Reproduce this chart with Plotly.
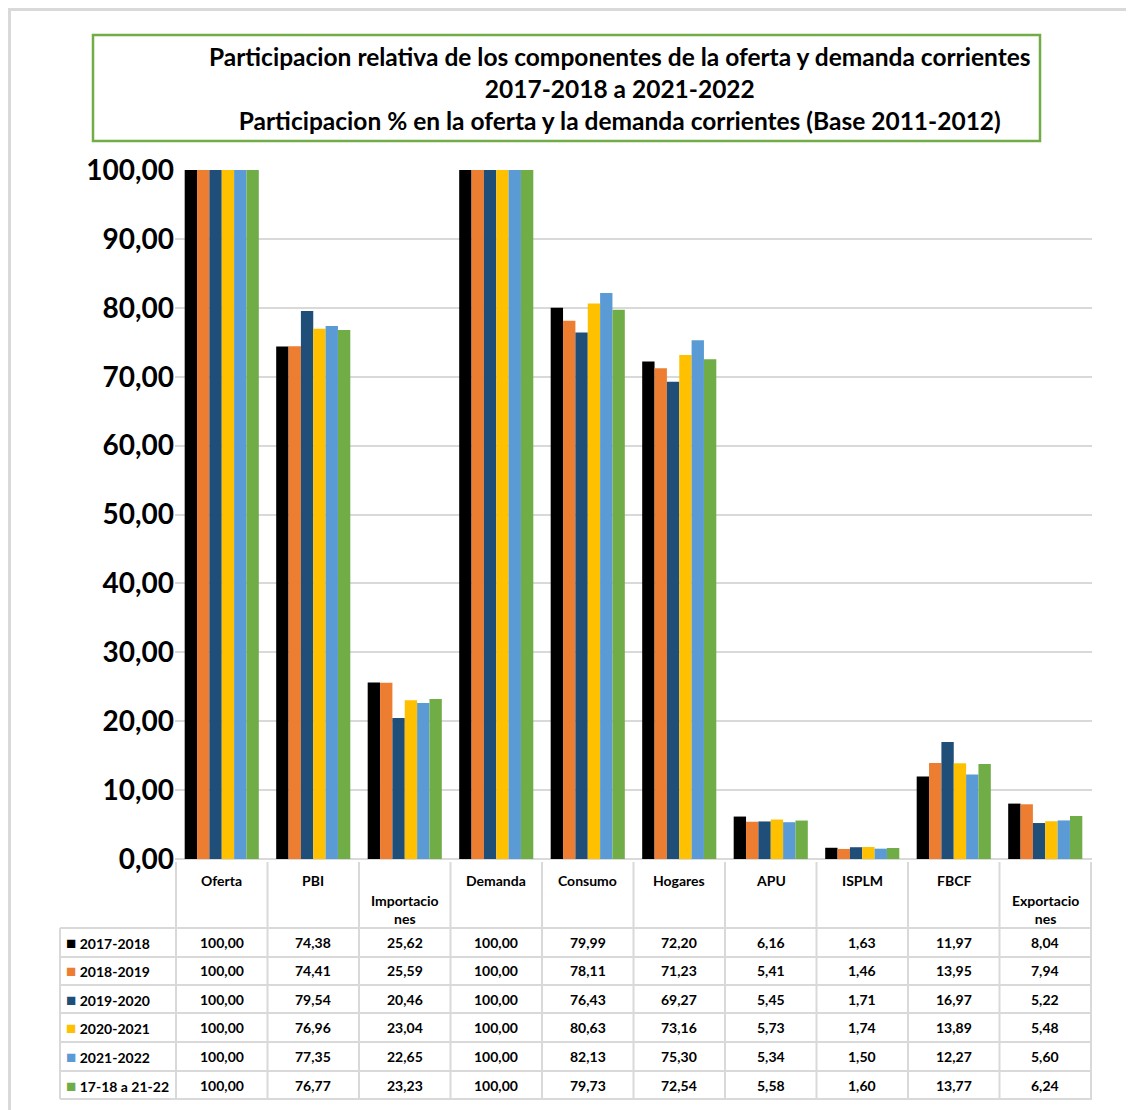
import plotly.graph_objects as go

categories = ["Oferta", "PBI", "Importaciones", "Demanda", "Consumo",
              "Hogares", "APU", "ISPLM", "FBCF", "Exportaciones"]
header_labels = ["Oferta", "PBI", "Importacio<br>nes", "Demanda", "Consumo",
                 "Hogares", "APU", "ISPLM", "FBCF", "Exportacio<br>nes"]

series_names = ["2017-2018", "2018-2019", "2019-2020", "2020-2021", "2021-2022", "17-18 a 21-22"]
v_2017_2018 = [100.00, 74.38, 25.62, 100.00, 79.99, 72.20, 6.16, 1.63, 11.97, 8.04]
v_2018_2019 = [100.00, 74.41, 25.59, 100.00, 78.11, 71.23, 5.41, 1.46, 13.95, 7.94]
v_2019_2020 = [100.00, 79.54, 20.46, 100.00, 76.43, 69.27, 5.45, 1.71, 16.97, 5.22]
v_2020_2021 = [100.00, 76.96, 23.04, 100.00, 80.63, 73.16, 5.73, 1.74, 13.89, 5.48]
v_2021_2022 = [100.00, 77.35, 22.65, 100.00, 82.13, 75.30, 5.34, 1.50, 12.27, 5.60]
v_promedio = [100.00, 76.77, 23.23, 100.00, 79.73, 72.54, 5.58, 1.60, 13.77, 6.24]
series_values = [v_2017_2018, v_2018_2019, v_2019_2020, v_2020_2021, v_2021_2022, v_promedio]

colors = ["#000000", "#ED7D31", "#1F4E79", "#FFC000", "#5B9BD5", "#70AD47"]

# the page body adds an 8px margin, so the figure is drawn 8px smaller
PAGE_OFF = 8
W, H = 1134 - PAGE_OFF, 1110 - PAGE_OFF
PLOT_L, PLOT_R, PLOT_T, PLOT_B = 175, 1092, 170, 859  # window pixels
GRID = "#D9D9D9"
FONT = "Lato"


def px_x(p):
    return (p - PLOT_L) / (PLOT_R - PLOT_L)


def px_y(p):
    return (PLOT_B - p) / (PLOT_B - PLOT_T)


def fmt(v):
    return f"{v:.2f}".replace(".", ",")


fig = go.Figure()
for name, vals, col in zip(series_names, series_values, colors):
    fig.add_trace(go.Bar(x=categories, y=vals, name=name, marker_color=col,
                         marker_line_width=0, showlegend=False))

shapes = []
annotations = []

# outer chart border and title box
shapes.append(dict(type="rect", xref="paper", yref="paper",
                   x0=px_x(9.5), x1=px_x(1160), y0=px_y(9.5), y1=px_y(1135),
                   line=dict(color=GRID, width=3), layer="below"))
shapes.append(dict(type="rect", xref="paper", yref="paper",
                   x0=px_x(93), x1=px_x(1040), y0=px_y(35), y1=px_y(141),
                   line=dict(color="#70AD47", width=2.5)))
annotations.append(dict(
    xref="paper", yref="paper", x=px_x(620), y=px_y(89), showarrow=False,
    text="Participacion relativa de los componentes de la oferta y demanda corrientes"
         "<br>2017-2018 a 2021-2022"
         "<br>Participacion % en la oferta y la demanda corrientes (Base 2011-2012)",
    font=dict(family=FONT, size=24.5, color="#000000", weight="bold"),
    align="center", xanchor="center", yanchor="middle"))

# data table
row_edges = [928, 957, 985, 1013, 1042, 1071, 1099]
for i in range(len(categories) + 1):
    shapes.append(dict(type="line", xref="x", yref="paper",
                       x0=i - 0.5, x1=i - 0.5, y0=px_y(862), y1=px_y(row_edges[-1]),
                       line=dict(color=GRID, width=2)))
shapes.append(dict(type="line", xref="paper", yref="paper",
                   x0=px_x(60), x1=px_x(60), y0=px_y(row_edges[0]), y1=px_y(row_edges[-1]),
                   line=dict(color=GRID, width=2)))
for e in row_edges:
    shapes.append(dict(type="line", xref="paper", yref="paper",
                       x0=px_x(60), x1=1, y0=px_y(e), y1=px_y(e),
                       line=dict(color=GRID, width=2)))

for cat, lab in zip(categories, header_labels):
    wrapped = "<br>" in lab
    annotations.append(dict(
        xref="x", yref="paper", x=cat, y=px_y(909 if wrapped else 880),
        text=lab, showarrow=False, align="center",
        font=dict(family=FONT, size=14, color="#000000", weight="bold"),
        xanchor="center", yanchor="middle"))

for r, (name, vals, col) in enumerate(zip(series_names, series_values, colors)):
    yc = px_y((row_edges[r] + row_edges[r + 1]) / 2)
    annotations.append(dict(
        xref="paper", yref="paper", x=px_x(64), y=yc, showarrow=False,
        text=f"<span style='color:{col};font-size:17px'>■</span> {name}",
        font=dict(family=FONT, size=14, color="#000000", weight="bold"),
        xanchor="left", yanchor="middle"))
    for cat, v in zip(categories, vals):
        annotations.append(dict(
            xref="x", yref="paper", x=cat, y=yc, text=fmt(v), showarrow=False,
            font=dict(family=FONT, size=14, color="#000000", weight="bold"),
            xanchor="center", yanchor="middle"))

fig.update_layout(
    width=W, height=H,
    margin=dict(l=PLOT_L - PAGE_OFF, r=W - (PLOT_R - PAGE_OFF),
                t=PLOT_T - PAGE_OFF, b=H - (PLOT_B - PAGE_OFF)),
    paper_bgcolor="#FFFFFF", plot_bgcolor="#FFFFFF",
    barmode="group", bargap=0.19, bargroupgap=0,
    separators=",.",
    font=dict(family=FONT, color="#000000"),
    xaxis=dict(showticklabels=False, showgrid=False, zeroline=False,
               showline=False, ticks=""),
    yaxis=dict(range=[0, 100], dtick=10, tickformat=".2f",
               showgrid=True, gridcolor=GRID, gridwidth=2,
               zeroline=True, zerolinecolor=GRID, zerolinewidth=2,
               showline=False, ticks="",
               tickfont=dict(family=FONT, size=28, color="#000000", weight="bold")),
    shapes=shapes,
    annotations=annotations,
)

fig.write_html("out.html")
